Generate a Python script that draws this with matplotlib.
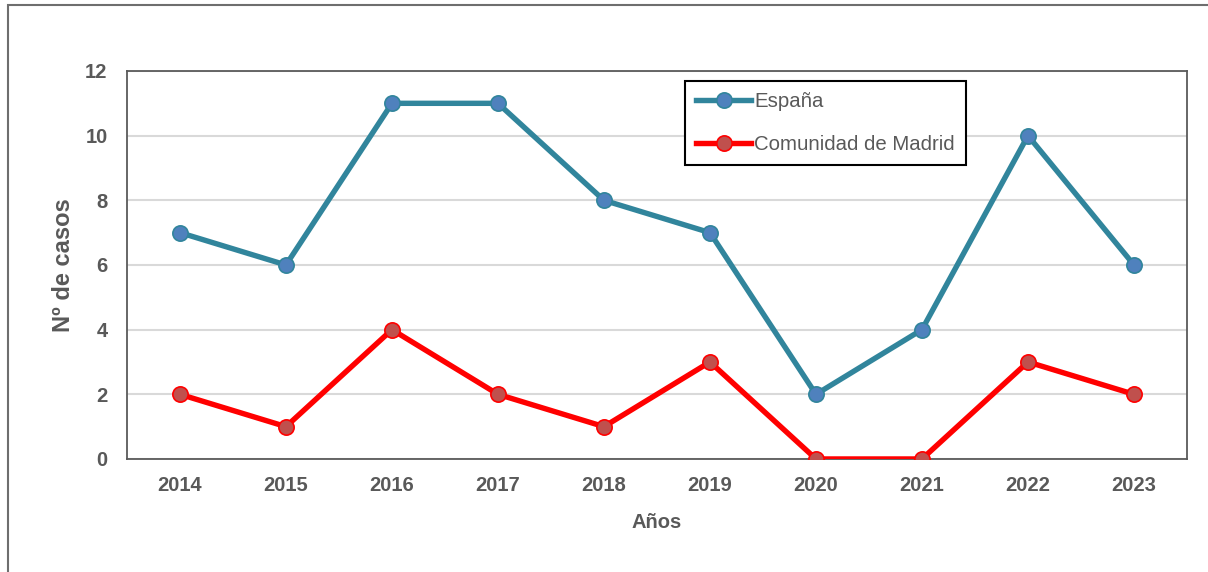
import matplotlib.pyplot as plt
from matplotlib.patches import Rectangle

plt.rcParams['font.family'] = ['Liberation Sans', 'DejaVu Sans']

# datos
years = ['2014', '2015', '2016', '2017', '2018', '2019', '2020', '2021', '2022', '2023']
espana = [7, 6, 11, 11, 8, 7, 2, 4, 10, 6]
madrid = [2, 1, 4, 2, 1, 3, 0, 0, 3, 2]

gray_txt = '#595959'

fig = plt.figure(figsize=(12.08, 5.72), dpi=100)
ax = fig.add_axes([0.1051, 0.1976, 0.8775, 0.6783])

# marco exterior
fig.patches.append(Rectangle((0.0066, -0.05), 1.1, 1.0413, transform=fig.transFigure,
                             fill=False, edgecolor='#6e6e6e', linewidth=1.5))

x = range(len(years))
ax.plot(x, espana, color='#31859C', linewidth=3.9, marker='o', markersize=11,
        markerfacecolor='#4F81BD', markeredgecolor='#31859C', markeredgewidth=1.2,
        label='España', zorder=3)
ax.plot(x, madrid, color='#FF0000', linewidth=3.9, marker='o', markersize=11,
        markerfacecolor='#C0504D', markeredgecolor='#FF0000', markeredgewidth=1.2,
        label='Comunidad de Madrid', zorder=3)

ax.set_xlim(-0.5, len(years) - 0.5)
ax.set_ylim(0, 12)
ax.set_yticks([0, 2, 4, 6, 8, 10, 12])
ax.set_xticks(list(x))
ax.set_xticklabels(years)
ax.yaxis.grid(True, color='#D9D9D9', linewidth=1.5)
ax.set_axisbelow(True)

for s in ax.spines.values():
    s.set_color('#5a5a5a')
    s.set_linewidth(1.3)

ax.tick_params(axis='both', length=0, labelsize=14.5, labelcolor=gray_txt)
ax.tick_params(axis='y', pad=14)
ax.tick_params(axis='x', pad=12)
for lab in ax.get_xticklabels() + ax.get_yticklabels():
    lab.set_fontweight('bold')

ax.set_xlabel('Años', fontsize=14.5, fontweight='bold', color=gray_txt, labelpad=13)
ax.set_ylabel('Nº de casos', fontsize=17, fontweight='bold', color=gray_txt, labelpad=7)

leg = ax.legend(loc='upper left', bbox_to_anchor=(0.5264, 0.974), borderaxespad=0,
                fancybox=False, frameon=True, fontsize=14.7, handlelength=2.7,
                handletextpad=0.15, labelspacing=1.15, borderpad=0.55, framealpha=1)
leg.get_frame().set_edgecolor('black')
leg.get_frame().set_linewidth(1.5)
for t in leg.get_texts():
    t.set_color(gray_txt)

fig.savefig('out.png', dpi=100)
